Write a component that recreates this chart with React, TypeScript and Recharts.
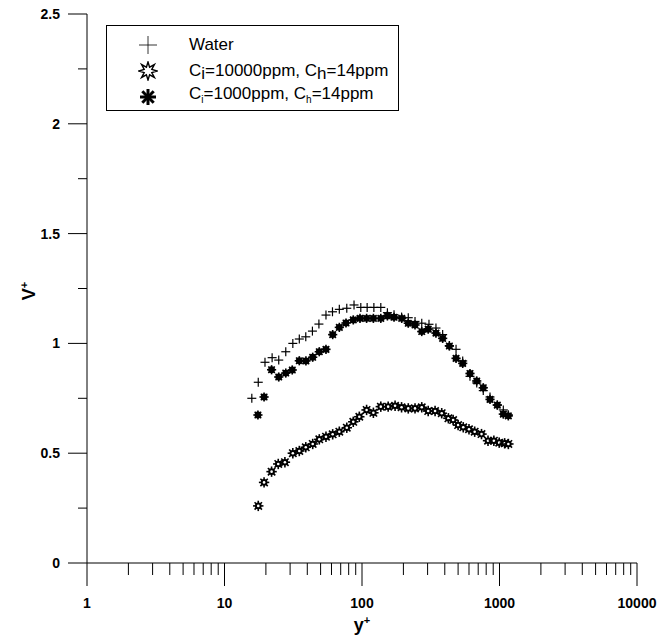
import { Legend, Scatter, ScatterChart, XAxis, YAxis } from 'recharts'

// y+ positions and v+ values
const waterX = [15.8, 17.6, 19.7, 22.2, 24.8, 27.9, 31.4, 35, 39, 43.6, 48.6, 54.7, 61, 68.4, 77.5, 87.5, 98, 109, 122, 137, 153, 171, 194, 217, 243, 272, 307, 345, 386, 432, 483, 540, 610, 683, 762, 853, 964, 1066, 1159]
const waterV = [0.75, 0.823, 0.914, 0.935, 0.924, 0.962, 1.0, 1.02, 1.03, 1.056, 1.088, 1.129, 1.144, 1.155, 1.16, 1.175, 1.164, 1.164, 1.164, 1.164, 1.14, 1.13, 1.12, 1.117, 1.1, 1.092, 1.087, 1.07, 1.04, 0.99, 0.973, 0.92, 0.85, 0.82, 0.785, 0.756, 0.72, 0.697, 0.675]

const highX = [17.6, 19.4, 22, 24.6, 27.5, 31.4, 35, 39, 43.8, 48.9, 54.7, 61.2, 68.4, 77.5, 86.4, 95.6, 108, 121, 137, 155, 174, 194, 217, 243, 272, 303, 340, 380, 425, 460, 500, 545, 600, 660, 740, 825, 910, 995, 1090, 1160]
const highV = [0.26, 0.367, 0.416, 0.451, 0.459, 0.5, 0.51, 0.527, 0.542, 0.563, 0.575, 0.586, 0.598, 0.616, 0.643, 0.666, 0.697, 0.684, 0.712, 0.712, 0.716, 0.709, 0.704, 0.704, 0.709, 0.692, 0.692, 0.682, 0.659, 0.651, 0.628, 0.618, 0.609, 0.598, 0.587, 0.557, 0.557, 0.548, 0.545, 0.542]

const lowX = [17.5, 19.4, 22, 24.8, 27.9, 31.1, 35, 39.1, 43.8, 48.9, 54.7, 61.2, 68.4, 76.5, 86.4, 96.7, 108, 121, 137, 153, 171, 194.5, 217, 243, 272, 303, 345, 386, 432, 483, 540, 610, 683, 762, 853, 964, 1066, 1159]
const lowV = [0.674, 0.756, 0.88, 0.847, 0.865, 0.879, 0.921, 0.92, 0.937, 0.962, 0.973, 1.04, 1.073, 1.093, 1.107, 1.114, 1.114, 1.114, 1.114, 1.125, 1.119, 1.114, 1.092, 1.084, 1.054, 1.065, 1.047, 1.023, 0.988, 0.932, 0.909, 0.863, 0.829, 0.798, 0.745, 0.719, 0.678, 0.67]

const xTicks = [1, 2, 3, 4, 5, 6, 7, 8, 9, 10, 20, 30, 40, 50, 60, 70, 80, 90, 100, 200, 300, 400, 500, 600, 700, 800, 900, 1000, 2000, 3000, 4000, 5000, 6000, 7000, 8000, 9000, 10000]
const yTicks = [0, 0.25, 0.5, 0.75, 1, 1.25, 1.5, 1.75, 2, 2.25, 2.5]

const toPoints = (xs: number[], vs: number[]) => xs.map((x, i) => ({ x, y: vs[i] }))

const water = toPoints(waterX, waterV)
const high = toPoints(highX, highV)
const low = toPoints(lowX, lowV)

const font = '"Liberation Sans", Arial, Helvetica, sans-serif'

function PlusMark({ cx, cy }: any) {
  return (
    <g stroke="#000" strokeWidth={1.2}>
      <line x1={cx - 4.5} y1={cy} x2={cx + 4.5} y2={cy} />
      <line x1={cx} y1={cy - 4.5} x2={cx} y2={cy + 4.5} />
    </g>
  )
}

function Spokes({ cx, cy, r }: { cx: number; cy: number; r: number }) {
  const d = r * 0.7071
  return (
    <g stroke="#000" strokeWidth={1.6}>
      <line x1={cx - r} y1={cy} x2={cx + r} y2={cy} />
      <line x1={cx} y1={cy - r} x2={cx} y2={cy + r} />
      <line x1={cx - d} y1={cy - d} x2={cx + d} y2={cy + d} />
      <line x1={cx - d} y1={cy + d} x2={cx + d} y2={cy - d} />
    </g>
  )
}

function BlobMark({ cx, cy }: any) {
  return (
    <g>
      <circle cx={cx} cy={cy} r={3.4} fill="#000" />
      <Spokes cx={cx} cy={cy} r={4.6} />
    </g>
  )
}

function SunMark({ cx, cy }: any) {
  return (
    <g>
      <circle cx={cx} cy={cy} r={3.3} fill="#000" />
      <Spokes cx={cx} cy={cy} r={5.2} />
      <circle cx={cx} cy={cy} r={1.3} fill="#fff" />
    </g>
  )
}

function XTick({ x, y, payload }: any) {
  const v = payload.value
  const major = Math.abs(Math.log10(v) - Math.round(Math.log10(v))) < 1e-9
  return (
    <g>
      <line x1={x} y1={y} x2={x} y2={y + (major ? 23 : 12)} stroke="#000" />
      {major && (
        <text x={x} y={y + 45} textAnchor="middle" fontFamily={font} fontWeight="bold" fontSize={14} fill="#000">
          {v}
        </text>
      )}
    </g>
  )
}

function YTick({ x, y, payload }: any) {
  const v = payload.value
  const major = Math.abs(v * 2 - Math.round(v * 2)) < 1e-9
  return (
    <g>
      <line x1={x - (major ? 19 : 9)} y1={y} x2={x} y2={y} stroke="#000" />
      {major && (
        <text x={x - 27} y={y + 5} textAnchor="end" fontFamily={font} fontWeight="bold" fontSize={14} fill="#000">
          {v}
        </text>
      )}
    </g>
  )
}

function LegendBox() {
  const row = { display: 'flex', alignItems: 'center', height: 26 }
  const mark = { width: 82, display: 'flex', justifyContent: 'center' }
  return (
    <div
      style={{
        border: '1px solid #000',
        background: '#fff',
        padding: '6px 10px 0 0',
        fontFamily: font,
        fontSize: 17,
        color: '#000',
        lineHeight: '18px',
      }}
    >
      <div style={row}>
        <div style={mark}>
          <svg width={20} height={20}>
            <line x1={1} y1={10} x2={19} y2={10} stroke="#000" strokeWidth={0.8} />
            <line x1={10} y1={1} x2={10} y2={19} stroke="#000" strokeWidth={0.8} />
          </svg>
        </div>
        <span>Water</span>
      </div>
      <div style={row}>
        <div style={mark}>
          <svg width={20} height={20}>
            <polygon
              points="10,1 11.6,6.2 16.4,3.6 13.8,8.4 19,10 13.8,11.6 16.4,16.4 11.6,13.8 10,19 8.4,13.8 3.6,16.4 6.2,11.6 1,10 6.2,8.4 3.6,3.6 8.4,6.2"
              fill="#fff"
              stroke="#000"
              strokeWidth={1.4}
            />
          </svg>
        </div>
        <span>
          C<span style={{ position: 'relative', top: 3 }}>i</span>=10000ppm, C
          <span style={{ position: 'relative', top: 3 }}>h</span>=14ppm
        </span>
      </div>
      <div style={row}>
        <div style={mark}>
          <svg width={20} height={20}>
            <g stroke="#000" strokeWidth={3}>
              <line x1={2} y1={10} x2={18} y2={10} />
              <line x1={10} y1={2} x2={10} y2={18} />
              <line x1={4.3} y1={4.3} x2={15.7} y2={15.7} />
              <line x1={4.3} y1={15.7} x2={15.7} y2={4.3} />
            </g>
          </svg>
        </div>
        <span>
          C<sub style={{ fontSize: 10 }}>i</sub>=1000ppm, C<sub style={{ fontSize: 10 }}>h</sub>=14ppm
        </span>
      </div>
    </div>
  )
}

export default function App() {
  return (
    <div style={{ position: 'absolute', left: 0, top: 0, width: 670, height: 635, background: '#fff' }}>
      <ScatterChart width={670} height={635} margin={{ top: 14, right: 33, bottom: 71, left: 86 }}>
        <XAxis
          type="number"
          dataKey="x"
          scale="log"
          domain={[1, 10000]}
          ticks={xTicks}
          interval={0}
          height={1}
          tickSize={0}
          tickMargin={0}
          tick={(p: any) => <XTick {...p} />}
          axisLine={{ stroke: '#000' }}
          allowDataOverflow
          label={{
            content: ({ viewBox }: any) => (
              <text x={viewBox.x + viewBox.width / 2} y={631} textAnchor="middle" fontFamily={font} fontWeight="bold" fontSize={18} fill="#000">
                y<tspan dy={-7} fontSize={11}>+</tspan>
              </text>
            ),
          }}
        />
        <YAxis
          type="number"
          dataKey="y"
          domain={[0, 2.5]}
          ticks={yTicks}
          interval={0}
          width={1}
          tickSize={0}
          tickMargin={0}
          tick={(p: any) => <YTick {...p} />}
          axisLine={{ stroke: '#000' }}
          allowDataOverflow
          label={{
            content: () => (
              <text x={35} y={291} transform="rotate(-90 35 291)" textAnchor="middle" fontFamily={font} fontWeight="bold" fontSize={18} fill="#000">
                V<tspan dy={-7} fontSize={11}>+</tspan>
              </text>
            ),
          }}
        />
        <Legend
          layout="vertical"
          align="center"
          verticalAlign="middle"
          content={() => <LegendBox />}
          wrapperStyle={{ left: 106, top: 25, width: 'auto', height: 'auto' }}
        />
        <Scatter name="Water" data={water} shape={(p: any) => <PlusMark cx={p.cx} cy={p.cy} />} isAnimationActive={false} />
        <Scatter name="Ci=10000ppm, Ch=14ppm" data={high} shape={(p: any) => <SunMark cx={p.cx} cy={p.cy} />} isAnimationActive={false} />
        <Scatter name="Ci=1000ppm, Ch=14ppm" data={low} shape={(p: any) => <BlobMark cx={p.cx} cy={p.cy} />} isAnimationActive={false} />
      </ScatterChart>
    </div>
  )
}
